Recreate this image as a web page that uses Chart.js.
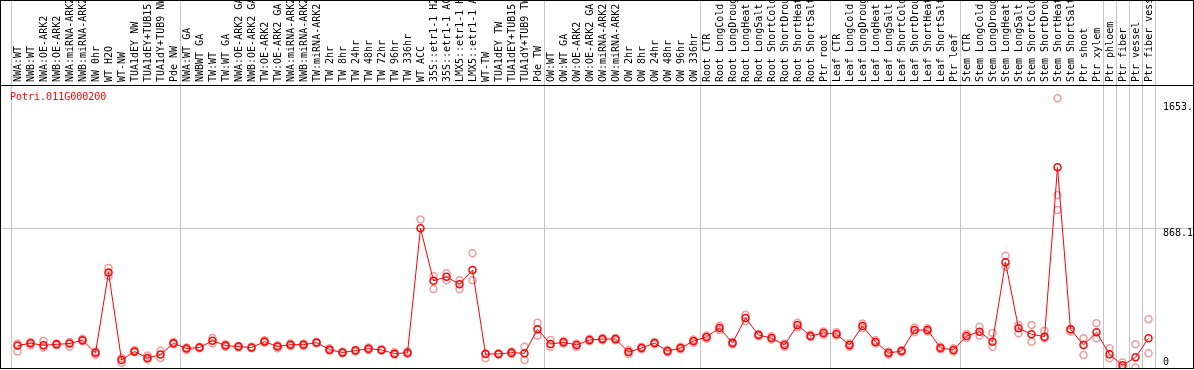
<!DOCTYPE html>
<html>
<head>
<meta charset="utf-8">
<script src="https://cdn.jsdelivr.net/npm/chart.js@4.4.1/dist/chart.umd.min.js"></script>
<style>
  html, body { margin: 0; padding: 0; background: #fff; }
  #wrap { width: 1194px; height: 370px; }
</style>
</head>
<body>
<div id="wrap"><canvas id="expr" width="1194" height="370"></canvas></div>
<script>
// gene shown in the profile
const geneId = 'Potri.011G000200';

// sample names along the top axis (text as far as it is visible)
const sampleLabels = [
    'NWA:WT', 'NWB:WT', 'NWA:OE-ARK2', 'NWB:OE-ARK2', 'NWA:miRNA-ARK2', 'NWB:miRNA-ARK2',
    'NW 0hr', 'WT H2O', 'WT-NW', 'TUA1dEY NW', 'TUA1dEY+TUB15', 'TUA1dY+TUB9 NW', 'Pde NW',
    'NWA:WT GA', 'NWBWT GA', 'TW:WT', 'TW:WT GA', 'NWA:OE-ARK2 GA', 'NWB:OE-ARK2 GA',
    'TW:OE-ARK2', 'TW:OE-ARK2 GA', 'NWA:miRNA-ARK2', 'NWB:miRNA-ARK2', 'TW:miRNA-ARK2',
    'TW 2hr', 'TW 8hr', 'TW 24hr', 'TW 48hr', 'TW 72hr', 'TW 96hr', 'TW 336hr', 'WT ACC',
    '35S::etr1-1 H2', '35S::etr1-1 AC', 'LMX5::etr1-1 H', 'LMX5::etr1-1 A', 'WT-TW',
    'TUA1dEY TW', 'TUA1dEY+TUB15', 'TUA1dY+TUB9 TW', 'Pde TW',
    'OW:WT', 'OW:WT GA', 'OW:OE-ARK2', 'OW:OE-ARK2 GA', 'OW:miRNA-ARK2', 'OW:miRNA-ARK2',
    'OW 2hr', 'OW 8hr', 'OW 24hr', 'OW 48hr', 'OW 96hr', 'OW 336hr',
    'Root CTR', 'Root LongCold', 'Root LongDroug', 'Root LongHeat', 'Root LongSalt',
    'Root ShortCold', 'Root ShortDrou', 'Root ShortHeat', 'Root ShortSalt', 'Ptr root',
    'Leaf CTR', 'Leaf LongCold', 'Leaf LongDroug', 'Leaf LongHeat', 'Leaf LongSalt',
    'Leaf ShortCold', 'Leaf ShortDrou', 'Leaf ShortHeat', 'Leaf ShortSalt', 'Ptr leaf',
    'Stem CTR', 'Stem LongCold', 'Stem LongDroug', 'Stem LongHeat', 'Stem LongSalt',
    'Stem ShortCold', 'Stem ShortDrou', 'Stem ShortHeat', 'Stem ShortSalt', 'Ptr shoot',
    'Ptr xylem', 'Ptr phloem', 'Ptr fiber', 'Ptr vessel', 'Ptr fiber vess'
];

// mean expression per sample (red line)
const meanValues = [
    137, 152, 139, 145, 150, 171, 92, 593, 48, 100, 60, 81, 152,
    119, 125, 168, 137, 131, 125, 162, 131, 143, 143, 156, 112, 94, 106, 118, 110, 87, 92,
    868, 541, 566, 519, 608, 85, 85, 93, 89, 239,
    147, 158, 141, 172, 178, 178, 97, 122, 153, 103, 122, 166,
    191, 247, 153, 309, 203, 184, 141, 265, 197, 216,
    209, 141, 259, 160, 91, 103, 234, 234, 122, 110,
    197, 224, 161, 656, 245, 208, 193, 1248, 239, 141,
    220, 83, 14, 64, 183
];

// single replicates (pale circles), null where none is seen
const replicateA = [
    100, 160, 165, 150, 130, 180, 80, 620, 30, 110, 75, 105, 160,
    110, 120, 185, 130, 125, 120, 170, 140, 150, 150, 160, 105, 88, 112, 125, 115, 80, 85,
    923, 490, 588, 490, 712, 58, 80, 100, 130, 280,
    172, 150, 130, 165, 170, 185, 85, 130, 160, 95, 130, 175,
    200, 260, 160, 330, 210, 195, 150, 280, 205, 225,
    220, 150, 275, 170, 80, 95, 250, 245, 130, 100,
    210, 255, 216, 697, 265, 265, 230, 1678, 224, 183,
    276, 120, 31, 145, 301
];
const replicateB = [
    150, 140, 125, 140, 160, 165, 100, 570, 60, 95, 50, 60, 145,
    125, 130, 150, 145, 135, 130, 155, 120, 135, 135, 150, 120, 100, 100, 110, 105, 95, 100,
    null, 569, 545, 545, 545, 90, 90, 85, 47, 199,
    130, 165, 150, 180, 185, 170, 110, 115, 145, 110, 115, 155,
    180, 235, 145, 290, 195, 175, 130, 250, 190, 205,
    200, 130, 245, 150, 100, 110, 220, 225, 115, 120,
    185, 200, 130, 629, 214, 161, 183, 1076, 239, 79,
    183, 58, 0, 0, 89
];
const replicateC = [
    null, null, null, null, null, null, null, null, null, null, null, null, null,
    null, null, null, null, null, null, null, null, null, null, null, null, null, null, null, null, null, null,
    null, null, null, null, null, null, null, null, null, null,
    null, null, null, null, null, null, null, null, null, null, null, null,
    null, null, null, null, null, null, null, null, null, null,
    null, null, null, null, null, null, null, null, null, null,
    null, null, null, null, null, null, null, 982, null, null,
    null, null, null, null, null
];

// right-hand value marks
const yTickValues = [0, 868.1, 1653];
const yTickLabels = ['0', '868.1', '1653.'];

// category index of the grey separators (boundary before sample i)
const groupBreaks = [0, 13, 41, 53, 63, 73, 84, 85, 86, 87, 88];

const MONO = '"DejaVu Sans Mono", "Liberation Mono", monospace';
const GREY = '#c4c4c4';
const CLEAR = 'rgba(0,0,0,0)';

const breakColor = ctx => (ctx.index === undefined || groupBreaks.includes(ctx.index)) ? GREY : CLEAR;
const levelColor = ctx => (ctx.tick && ctx.tick.value === 868.1) ? GREY : CLEAR;

// frame, gene name and the value marks on the right
const framePlugin = {
    id: 'frame',
    afterDraw(chart) {
        const c = chart.ctx;
        const area = chart.chartArea;
        const y = chart.scales.y;
        c.save();
        c.strokeStyle = '#000';
        c.lineWidth = 1;
        c.strokeRect(0.5, 0.5, chart.width - 1, area.bottom);
        c.beginPath();
        c.moveTo(0, area.top + 0.5);
        c.lineTo(chart.width, area.top + 0.5);
        c.stroke();

        c.font = '10px ' + MONO;
        c.fillStyle = '#ff0000';
        c.textBaseline = 'middle';
        c.textAlign = 'left';
        c.fillText(geneId, area.left - 1, area.top + 12);

        c.fillStyle = '#000';
        yTickValues.forEach((v, i) => {
            const py = y.getPixelForValue(v);
            const shift = v === 0 ? -5 : 5;
            c.fillText(yTickLabels[i], area.right + 8, py + shift);
        });
        c.restore();
    }
};

function hideWidth(w) {
    return scale => { scale.width = w; };
}

function setTicks(scale) {
    scale.ticks = yTickValues.map(v => ({ value: v }));
}

const pale = {
    showLine: false,
    pointRadius: 3.5,
    pointBorderWidth: 1.5,
    pointBorderColor: '#f29a9a',
    pointBackgroundColor: CLEAR
};

new Chart(document.getElementById('expr').getContext('2d'), {
    type: 'line',
    data: {
        labels: sampleLabels,
        datasets: [
            {
                data: meanValues,
                borderColor: '#ff0000',
                borderWidth: 1,
                pointRadius: 3.5,
                pointBorderWidth: 1.5,
                pointBorderColor: '#ff0000',
                pointBackgroundColor: CLEAR,
                tension: 0
            },
            Object.assign({ data: replicateA }, pale),
            Object.assign({ data: replicateB }, pale),
            Object.assign({ data: replicateC }, pale)
        ]
    },
    options: {
        responsive: false,
        animation: false,
        devicePixelRatio: 1,
        layout: { autoPadding: false, padding: { left: 0, right: 0, top: 0, bottom: 2 } },
        plugins: { legend: { display: false }, tooltip: { enabled: false } },
        scales: {
            x: {
                position: 'top',
                offset: true,
                grid: { offset: true, color: breakColor, tickLength: 85, lineWidth: 1 },
                border: { display: false },
                ticks: {
                    autoSkip: false,
                    minRotation: 90,
                    maxRotation: 90,
                    padding: -82,
                    labelOffset: 13,
                    color: '#000',
                    font: { family: MONO, size: 10 }
                },
                afterFit: scale => { scale.height = 85; }
            },
            y: {
                position: 'right',
                min: -2.5,
                max: 1761,
                afterBuildTicks: setTicks,
                afterFit: hideWidth(39),
                grid: { color: levelColor, tickLength: 39 },
                border: { color: GREY },
                ticks: { display: false }
            },
            y2: {
                position: 'left',
                min: -2.5,
                max: 1761,
                afterBuildTicks: setTicks,
                afterFit: hideWidth(11),
                grid: { color: levelColor, tickLength: 11, drawOnChartArea: false },
                border: { color: GREY },
                ticks: { display: false }
            }
        }
    },
    plugins: [framePlugin]
});
</script>
</body>
</html>
